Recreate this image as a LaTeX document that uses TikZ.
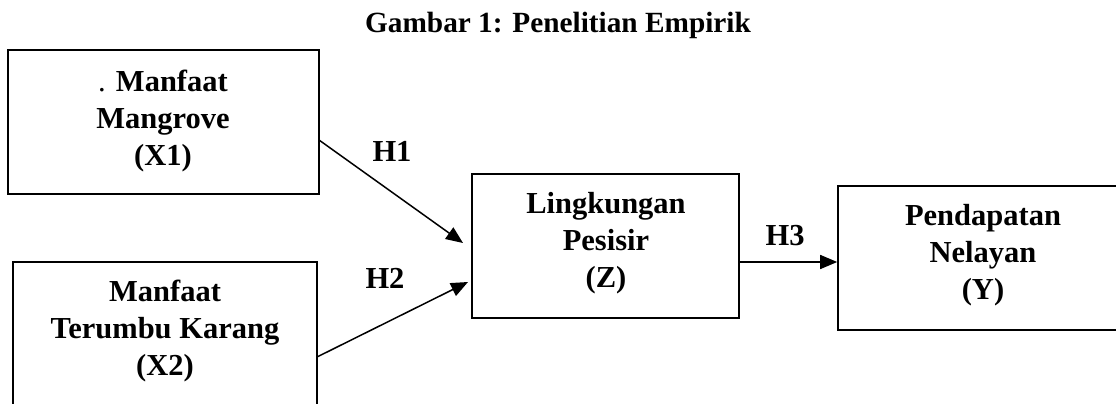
\documentclass[tikz,border=0pt]{standalone}
\usepackage{fontspec}
\newfontfamily\tnr{Liberation Serif}
\usetikzlibrary{arrows.meta}
\tikzset{
  box/.style={draw, line width=1.6pt, inner sep=0pt, minimum width=#1},
  lbl/.style={font=\tnr\bfseries\fontsize{30.5}{37}\selectfont, align=center, inner sep=0pt, anchor=north},
  hyp/.style={font=\tnr\bfseries\fontsize{30.5}{34}\selectfont, inner sep=0pt, anchor=base},
  arr/.style={line width=1.5pt, -{Triangle[length=17pt,width=14pt]}}
}
\begin{document}
\begin{tikzpicture}[x=1pt,y=-1pt]
\useasboundingbox (0,0) rectangle (1116,404);
\clip (0,0) rectangle (1116,404);
\node[hyp, font=\tnr\bfseries\fontsize{29.3}{33}\selectfont] (title) at (558,32.5) {Gambar 1: Penelitian Empirik};
% boxes
\node[box=311pt, minimum height=144pt] (X1) at (163.5,122) {};
\node[box=304pt, minimum height=160pt] (X2) at (165,342) {};
\node[box=267pt, minimum height=144pt] (Z) at (605.5,246) {};
\node[box=288pt, minimum height=144pt] (Y) at (982,258) {};
% texts
\node[lbl] (tX1) at (163,69.5) {{\mdseries.} Manfaat\\Mangrove\\(X1)};
\node[lbl] (tX2) at (165,279.5) {Manfaat\\Terumbu Karang\\(X2)};
\node[lbl] (tZ) at (606,192.5) {Lingkungan\\Pesisir\\(Z)};
\node[lbl] (tY) at (983,204.5) {Pendapatan\\Nelayan\\(Y)};
% arrows
\coordinate (h1s) at (319,140);
\coordinate (h1e) at (463,243);
\coordinate (h2s) at (317,357);
\coordinate (h2e) at (468,282);
\draw[arr] (h1s) -- (h1e);
\draw[arr] (h2s) -- (h2e);
\draw[arr] (Z.east |- 0,262) -- (Y.west |- 0,262);
\node[hyp] (H1) at (392,161) {H1};
\node[hyp] (H2) at (385,288) {H2};
\node[hyp] (H3) at (785,245) {H3};
\end{tikzpicture}
\end{document}
